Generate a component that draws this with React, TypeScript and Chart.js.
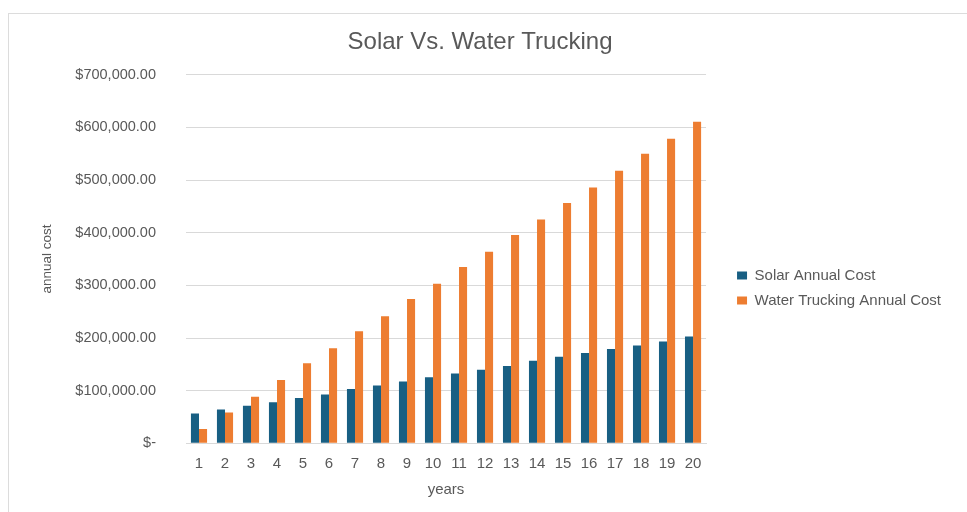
import React, { useEffect, useRef } from "react";
import { Chart, registerables } from "chart.js";

Chart.register(...registerables);

const years = ["1","2","3","4","5","6","7","8","9","10","11","12","13","14","15","16","17","18","19","20"];
const solarCost = [56700, 64300, 71200, 78200, 85900, 92900, 103000, 110000, 117600, 125300, 132500, 139500, 147000, 156600, 164200, 171300, 178900, 185700, 193300, 202900];
const waterCost = [27300, 58600, 88400, 120200, 152000, 180700, 213000, 241500, 274000, 303000, 335000, 364000, 395800, 425000, 456700, 485800, 517600, 550000, 578500, 610800];
const seriesNames = ["Solar Annual Cost", "Water Trucking Annual Cost"];
const chartTitle = "Solar Vs. Water Trucking";
const xTitle = "years";
const yTitle = "annual cost";
const yMax = 700000;
const yStep = 100000;

const TEXT = "#595959";
const GRID = "#d9d9d9";
const FONT = "'Liberation Sans', Arial, sans-serif";

function fmtMoney(v: number): string {
  if (v === 0) return "$-";
  return "$" + v.toLocaleString("en-US", { minimumFractionDigits: 2, maximumFractionDigits: 2 });
}

export default function App() {
  const ref = useRef<HTMLCanvasElement | null>(null);
  useEffect(() => {
    if (!ref.current) return;
    Chart.defaults.font.family = FONT;
    Chart.defaults.color = TEXT;
    const chart = new Chart(ref.current, {
      type: "bar",
      data: {
        labels: years,
        datasets: [
          { label: seriesNames[0], data: solarCost, backgroundColor: "#185f83", borderWidth: 0 },
          { label: seriesNames[1], data: waterCost, backgroundColor: "#ed7d31", borderWidth: 0 },
        ],
      },
      options: {
        responsive: false,
        animation: false,
        layout: { padding: { left: 0, right: 16, top: 0, bottom: 0 } },
        datasets: { bar: { categoryPercentage: 0.62, barPercentage: 1.0 } },
        plugins: {
          title: {
            display: true,
            text: chartTitle,
            color: TEXT,
            font: { size: 24, weight: "normal", family: FONT },
            padding: { top: 14, bottom: 18 },
          },
          legend: {
            position: "right",
            align: "center",
            maxWidth: 260,
            title: { display: true, text: " ", font: { size: 10 }, padding: { top: 19, bottom: 19 } },
            labels: {
              boxWidth: 10,
              boxHeight: 8,
              padding: 10,
              color: TEXT,
              font: { size: 15, family: FONT },
            },
          },
          tooltip: { enabled: false },
        },
        scales: {
          x: {
            grid: { display: false, drawTicks: false },
            border: { display: true, color: GRID },
            ticks: { padding: 12, color: TEXT, font: { size: 15, family: FONT }, maxRotation: 0, autoSkip: false },
            title: { display: true, text: xTitle, color: TEXT, font: { size: 15, family: FONT }, padding: { top: 0, bottom: 13.5 } },
            afterFit: (s: any) => { s.height = 68.7; },
          },
          y: {
            min: 0,
            max: yMax,
            grid: { color: GRID, drawTicks: false },
            border: { display: false },
            ticks: { stepSize: yStep, padding: 30, color: TEXT, font: { size: 14.5, family: FONT }, callback: (v: any) => fmtMoney(Number(v)) },
            title: { display: true, text: yTitle, color: TEXT, font: { size: 13.5, family: FONT }, padding: { top: 30, bottom: 0 } },
            afterFit: (s: any) => { s.width = 177; },
          },
          spacer: {
            type: "linear",
            position: "right",
            display: true,
            grid: { display: false, drawTicks: false },
            border: { display: false },
            ticks: { display: false },
            afterFit: (s: any) => { s.width = 21; },
          },
        },
      } as any,
    });
    return () => chart.destroy();
  }, []);
  return (
    <div
      style={{
        position: "fixed",
        left: 8,
        top: 13,
        width: 958,
        height: 498,
        borderTop: "1px solid #dcdcdc",
        borderLeft: "1px solid #dcdcdc",
        background: "#fff",
      }}
    >
      <canvas ref={ref} width={958} height={498} style={{ display: "block" }} />
    </div>
  );
}
